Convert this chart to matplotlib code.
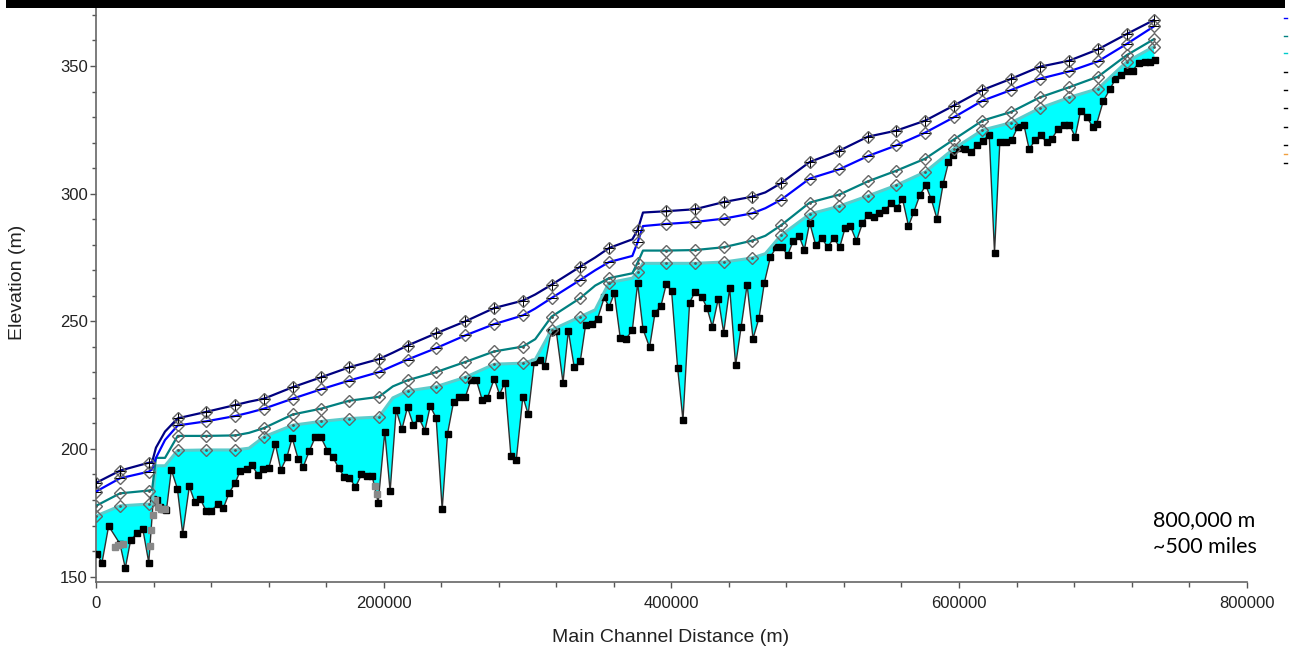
import numpy as np
import matplotlib
matplotlib.use("Agg")
import matplotlib.pyplot as plt
from matplotlib.ticker import MultipleLocator, FuncFormatter
from matplotlib.patches import Rectangle
from matplotlib.lines import Line2D

plt.rcParams['font.family'] = ['Liberation Sans', 'DejaVu Sans']

# water surface profiles (station in km, elevation in m)
ws_km = [0, 16.7, 36.7, 39.0, 41.7, 48.0, 56.8, 76.5, 96.9, 106.4, 116.9, 136.8,
         156.7, 176.2, 196.7, 206.4, 216.6, 236.5, 256.9, 276.9, 296.8, 305.4,
         316.7, 336.7, 347.1, 356.7, 372.9, 376.6, 380.3, 396.0, 416.5, 436.4,
         456.3, 465.4, 476.3, 496.2, 516.7, 536.6, 556.5, 576.5, 596.4, 616.3,
         636.3, 656.2, 676.7, 696.6, 716.5, 735.5]
no_marker_km = [39.0, 41.7, 48.0, 106.4, 206.4, 305.4, 347.1, 372.9, 380.3, 465.4]

ws_navy = [186.7, 191.5, 194.6, 194.8, 200.5, 206.8, 212.0, 214.5, 217.2, 218.5,
           219.7, 224.2, 228.1, 232.0, 235.2, 237.7, 240.5, 245.3, 250.0, 255.2,
           258.1, 260.5, 264.3, 271.4, 275.0, 278.7, 282.1, 285.8, 292.6, 293.1,
           293.9, 296.7, 298.8, 300.5, 304.1, 312.4, 316.8, 322.3, 324.7, 328.6,
           334.5, 340.6, 345.0, 349.7, 352.1, 356.5, 362.5, 368.0]
ws_blue = [183.3, 188.5, 191.1, 192.0, 196.5, 203.5, 209.2, 210.8, 212.9, 214.2,
           215.8, 219.7, 223.4, 226.8, 230.1, 232.5, 235.0, 239.5, 244.5, 248.9,
           252.3, 255.0, 259.1, 266.2, 270.0, 273.2, 275.6, 281.0, 287.3, 288.1,
           288.9, 290.2, 292.3, 294.3, 297.6, 305.9, 309.5, 314.7, 318.9, 323.9,
           329.9, 336.4, 340.6, 345.0, 347.9, 351.8, 358.6, 365.5]
ws_teal = [177.7, 182.6, 183.7, 184.0, 196.5, 196.5, 205.1, 205.1, 205.3, 206.3,
           208.2, 213.5, 215.8, 218.9, 220.4, 224.5, 226.9, 230.1, 234.1, 238.2,
           240.1, 243.0, 251.8, 259.1, 264.0, 266.9, 268.8, 273.0, 277.7, 277.7,
           277.9, 279.0, 281.6, 283.5, 287.6, 296.5, 299.6, 304.8, 309.0, 313.7,
           321.2, 328.6, 332.0, 337.7, 341.7, 345.8, 354.2, 360.5]
ws_low = [173.7, 177.7, 178.4, 178.3, 193.4, 193.4, 199.4, 199.6, 199.6, 200.3,
          204.8, 209.3, 210.8, 211.9, 212.5, 220.0, 222.7, 224.4, 228.1, 233.2,
          233.6, 235.0, 246.6, 251.8, 254.5, 265.1, 266.9, 269.3, 272.7, 272.7,
          272.7, 273.2, 274.8, 276.5, 283.7, 292.0, 295.1, 299.1, 303.3, 308.5,
          317.6, 324.9, 327.8, 333.5, 337.7, 341.1, 351.6, 357.6]

# channel bed (ground) profile
bed_km = [0.5, 4.2, 8.8, 16.7, 20.4, 24.1, 28.7, 32.5, 36.7, 39.9, 42.4, 44.5,
          46.8, 49.0, 52.4, 56.6, 60.3, 64.9, 68.7, 72.4, 76.5, 80.2, 84.9, 88.6,
          92.7, 96.9, 100.2, 104.8, 108.5, 112.7, 116.4, 120.1, 124.7, 128.5,
          132.7, 136.4, 140.5, 144.2, 148.4, 152.4, 156.3, 160.9, 164.7, 168.8,
          172.5, 176.2, 180.4, 184.6, 188.5, 192.0, 196.2, 200.8, 204.5, 208.7,
          212.7, 216.6, 220.7, 224.5, 228.7, 232.4, 236.5, 240.7, 244.4, 248.6,
          252.7, 256.9, 260.7, 264.4, 268.5, 272.2, 276.9, 280.6, 284.3, 288.5,
          292.2, 296.8, 300.5, 304.7, 308.4, 312.1, 316.3, 320.0, 324.7, 328.4,
          332.5, 336.7, 340.4, 344.6, 348.7, 353.4, 356.7, 360.4, 364.5, 368.7,
          372.9, 376.6, 380.3, 384.9, 388.7, 392.8, 396.5, 400.2, 404.4, 408.1,
          412.7, 416.5, 421.1, 424.8, 428.5, 432.7, 436.4, 440.6, 444.7, 448.5,
          452.7, 456.8, 461.0, 464.7, 468.9, 473.0, 476.7, 480.9, 484.7, 488.8,
          492.5, 496.2, 500.4, 504.6, 508.7, 512.9, 517.1, 520.8, 524.5, 528.7,
          532.9, 536.6, 540.7, 544.5, 548.7, 552.8, 557.0, 560.7, 564.9, 568.6,
          572.7, 576.9, 580.7, 584.8, 589.0, 592.7, 596.0, 600.1, 604.3, 608.5,
          612.7, 616.8, 621.0, 624.7, 628.4, 632.6, 636.7, 640.9, 645.1, 648.8,
          653.0, 656.7, 660.9, 664.6, 668.7, 672.9, 676.7, 680.8, 684.5, 688.7,
          692.9, 695.7, 700.3, 704.9, 708.7, 712.4, 716.5, 720.7, 724.9, 729.0,
          732.7, 736.0]
bed_elev = [158.9, 155.5, 169.8, 162.8, 153.3, 164.3, 167.0, 168.8, 155.5, 180.5,
            180.0, 177.4, 176.3, 176.1, 191.8, 184.4, 166.7, 185.3, 179.2, 180.5,
            175.8, 175.8, 178.4, 176.9, 182.9, 186.8, 191.3, 192.0, 193.6, 189.7,
            192.3, 192.5, 202.0, 191.8, 196.7, 204.3, 196.2, 193.1, 199.3, 204.5,
            204.7, 199.3, 196.7, 192.5, 189.0, 188.8, 185.0, 190.0, 189.4, 189.4,
            179.0, 206.7, 183.4, 215.3, 207.7, 216.3, 209.3, 212.1, 207.2, 216.8,
            212.1, 176.4, 205.9, 218.4, 220.5, 220.5, 227.0, 227.0, 219.2, 220.0,
            227.5, 221.3, 226.0, 197.2, 195.7, 220.5, 213.5, 234.0, 234.8, 232.5,
            245.8, 246.1, 226.0, 246.3, 232.0, 234.3, 248.5, 249.0, 251.0, 259.4,
            255.5, 261.0, 243.4, 243.2, 246.6, 264.9, 246.9, 239.8, 253.4, 256.0,
            264.6, 261.8, 231.7, 211.3, 257.3, 261.5, 259.7, 255.2, 247.9, 258.9,
            245.5, 263.0, 232.8, 247.6, 264.3, 243.2, 251.3, 265.1, 275.2, 279.0,
            279.2, 275.9, 281.4, 283.4, 278.0, 288.6, 279.8, 282.6, 279.0, 282.6,
            279.0, 286.5, 287.3, 281.4, 288.4, 291.5, 291.0, 292.3, 293.6, 296.2,
            294.4, 298.0, 287.3, 292.8, 299.3, 303.3, 297.8, 290.0, 303.8, 312.2,
            315.0, 317.9, 317.4, 316.3, 318.9, 320.8, 323.1, 276.9, 320.2, 320.2,
            321.0, 326.2, 327.0, 317.4, 321.0, 322.9, 320.2, 321.5, 325.2, 327.0,
            327.0, 322.3, 332.3, 330.2, 326.2, 327.3, 336.2, 340.9, 344.8, 346.4,
            348.2, 348.2, 351.1, 351.6, 351.6, 352.4]

# secondary ground points shown in grey
grey_km = [13.2, 15.5, 18.5, np.nan, 37.6, 38.3, 39.4, 41.1, 43.3, 45.5, 48.0,
           np.nan, 194.3, 195.4]
grey_elev = [161.7, 162.4, 162.6, np.nan, 162.0, 168.3, 174.1, 180.0, 177.4,
             176.4, 176.3, np.nan, 185.6, 182.5]

ws_m = np.array(ws_km) * 1000
bed_m = np.array(bed_km) * 1000
marks = np.where(~np.isin(ws_km, no_marker_km))[0].tolist()

fig = plt.figure(figsize=(12.9, 6.5), dpi=100)
ax = fig.add_axes([0.0744, 0.1051, 0.8920, 0.8837])

# filled water between lowest water surface and channel bed
ax.fill(np.r_[ws_m, bed_m[::-1]], np.r_[ws_low, np.array(bed_elev)[::-1]],
        color='#00ffff', lw=0, zorder=1)

ax.plot(bed_m, bed_elev, color='#303030', lw=1, marker='s', ms=4.2,
        mfc='black', mec='black', zorder=3)
ax.plot(np.array(grey_km) * 1000, grey_elev, color='#888888', lw=1, ls='none',
        marker='s', ms=4.2, mfc='#888888', mec='#888888', zorder=4)

dia = dict(marker='D', ms=6.5, mfc='none', mec='#666666', mew=1.0, markevery=marks)
ax.plot(ws_m, ws_low, color='#5ccccc', lw=2.2, zorder=5, **dia)
ax.plot(ws_m, ws_teal, color='#008080', lw=1.6, zorder=5, **dia)
ax.plot(ws_m, ws_blue, color='#0000ff', lw=1.6, zorder=6, **dia)
ax.plot(ws_m, ws_navy, color='#000080', lw=1.6, zorder=7, **dia)
# inner symbols of the diamonds
ax.plot(ws_m, ws_navy, ls='none', marker='+', ms=6.5, mec='black', mew=0.7,
        markevery=marks, zorder=8)
ax.plot(ws_m, ws_blue, ls='none', marker='_', ms=6.5, mec='black', mew=0.7,
        markevery=marks, zorder=8)
ax.plot(ws_m, ws_teal, ls='none', marker='.', ms=2, mec='#555555',
        markevery=marks, zorder=8)
ax.plot(ws_m, ws_low, ls='none', marker='.', ms=2, mec='#555555',
        markevery=marks, zorder=8)

ax.set_xlim(0, 800000)
ax.set_ylim(148, 373)
ax.xaxis.set_major_locator(MultipleLocator(200000))
ax.xaxis.set_minor_locator(MultipleLocator(40000))
ax.yaxis.set_major_locator(MultipleLocator(50))
ax.yaxis.set_minor_locator(MultipleLocator(10))
ax.xaxis.set_major_formatter(FuncFormatter(lambda v, p: '%d' % v))

for s in ['top', 'right']:
    ax.spines[s].set_visible(False)
for s in ['left', 'bottom']:
    ax.spines[s].set_color('#666666')
    ax.spines[s].set_linewidth(1.2)

ax.tick_params(which='both', direction='out', color='#555555', width=1,
               labelsize=12, labelcolor='#222222')
ax.tick_params(axis='x', which='major', length=4, pad=6)
ax.tick_params(axis='x', which='minor', length=3.5)
ax.tick_params(axis='y', which='major', length=4, pad=2)
ax.tick_params(axis='y', which='minor', length=3)

fig.text(18 / 1290, 1 - 282 / 650, 'Elevation (m)', rotation=90,
         ha='center', va='center', fontsize=14, color='#222222')
fig.text(671 / 1290, 1 - 637 / 650, 'Main Channel Distance (m)',
         ha='center', va='center', fontsize=14, color='#222222')

fig.text(1153 / 1290, 1 - 510 / 650, '800,000 m\n~500 miles', ha='left',
         va='top', fontsize=15.5, family=['Lato', 'DejaVu Sans'],
         color='black', linespacing=1.45)

# black band along the top edge of the slide crop
fig.add_artist(Rectangle((6 / 1290, 1 - 7.5 / 650), 1279 / 1290, 7.5 / 650,
                         transform=fig.transFigure, color='black', lw=0))

# remnants of a cropped legend on the right edge
stub_y = [18, 36, 53, 72, 90, 108, 127, 145, 154, 163]
stub_c = ['#0000ff', '#008080', '#00cccc', 'black', 'black', 'black', 'black',
          'black', '#f0a040', 'black']
for yy, cc in zip(stub_y, stub_c):
    fig.add_artist(Line2D([1284 / 1290, 1287 / 1290], [1 - yy / 650] * 2,
                          transform=fig.transFigure, color=cc, lw=1))

fig.savefig('out.png', dpi=100)
